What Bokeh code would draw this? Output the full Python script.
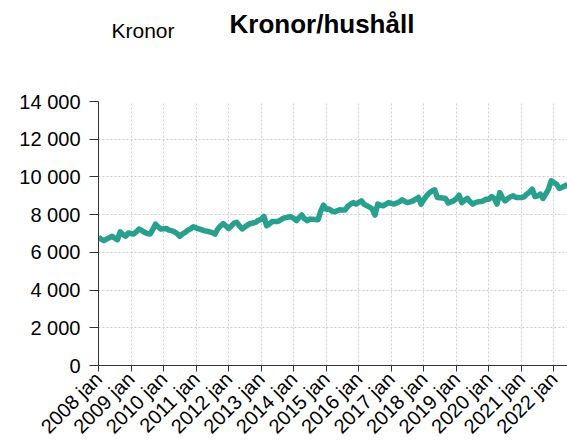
import math
from bokeh.plotting import figure
from bokeh.models import Range1d, FixedTicker, Title
from bokeh.embed import file_html
from bokeh.resources import INLINE

# ---- data ----
start_year = 2008
values = [
    # 2008
    6800, 6700, 6620, 6700, 6780, 6850, 6750, 6670, 7090, 6950, 6850, 7030,
    # 2009
    7000, 6970, 7100, 7240, 7150, 7060, 7000, 6970, 7200, 7500, 7350, 7240,
    # 2010
    7250, 7270, 7180, 7150, 7090, 7000, 6850, 6980, 7060, 7180, 7250, 7360,
    # 2011
    7300, 7240, 7200, 7150, 7120, 7090, 7050, 6970, 7240, 7400, 7530, 7400,
    # 2012
    7270, 7400, 7550, 7590, 7400, 7240, 7350, 7450, 7530, 7560, 7590, 7700,
    # 2013
    7750, 7910, 7410, 7500, 7630, 7630, 7630, 7700, 7800, 7840, 7870, 7890,
    # 2014
    7800, 7680, 7850, 7980, 7780, 7680, 7770, 7750, 7740, 7730, 8200, 8500,
    # 2015
    8290, 8300, 8200, 8150, 8200, 8260, 8240, 8250, 8450, 8560, 8640, 8560,
    # 2016
    8650, 8730, 8550, 8470, 8400, 8290, 7980, 8560, 8500, 8470, 8550, 8640,
    # 2017
    8600, 8560, 8620, 8680, 8790, 8700, 8640, 8680, 8730, 8820, 8910, 8560,
    # 2018
    8800, 9000, 9150, 9250, 9320, 8910, 8900, 8880, 8860, 8610, 8680, 8730,
    # 2019
    8850, 9030, 8640, 8750, 8860, 8700, 8560, 8640, 8680, 8700, 8730, 8820,
    # 2020
    8820, 8960, 8850, 8560, 9170, 8900, 8730, 8850, 8950, 9000, 8910, 8910,
    # 2021
    8910, 8950, 9090, 9200, 9350, 8960, 9000, 9090, 8860, 9100, 9350, 9790,
    # 2022
    9700, 9610, 9390, 9450, 9520, 9600,
]
x_tick_labels = ["2008 jan", "2009 jan", "2010 jan", "2011 jan", "2012 jan",
                 "2013 jan", "2014 jan", "2015 jan", "2016 jan", "2017 jan",
                 "2018 jan", "2019 jan", "2020 jan", "2021 jan", "2022 jan"]
y_ticks = [0, 2000, 4000, 6000, 8000, 10000, 12000, 14000]
y_tick_labels = ["0", "2 000", "4 000", "6 000", "8 000", "10 000", "12 000", "14 000"]
title_text = "Kronor/hushåll"
unit_text = "Kronor"

months = list(range(len(values)))
x_ticks = [12 * i for i in range(len(x_tick_labels))]

FONT = "Liberation Sans"

p = figure(width=567, height=448, output_backend="svg", toolbar_location=None,
           x_range=Range1d(0, len(values) - 1), y_range=Range1d(0, 14000),
           min_border_left=98, min_border_top=101, min_border_right=0, min_border_bottom=81)
p.outline_line_color = None
p.background_fill_color = "white"
p.border_fill_color = "white"

p.line(months, values, line_color="#28a08e", line_width=5.5, line_join="round")

# axes
p.xaxis.ticker = FixedTicker(ticks=x_ticks)
p.xaxis.major_label_overrides = {t: l for t, l in zip(x_ticks, x_tick_labels)}
p.xaxis.major_label_orientation = math.pi / 4
p.yaxis.ticker = FixedTicker(ticks=y_ticks)
p.yaxis.major_label_overrides = {t: l for t, l in zip(y_ticks, y_tick_labels)}

for ax in (p.xaxis, p.yaxis):
    ax.major_label_text_font = FONT
    ax.major_label_text_font_size = "20px"
    ax.major_label_text_color = "black"
    ax.axis_line_color = "#333333"
    ax.major_tick_line_color = "#333333"
    ax.minor_tick_line_color = None
    ax.major_tick_in = 0
p.yaxis.major_tick_out = 9
p.yaxis.major_label_standoff = 9
p.xaxis.major_tick_out = 6
p.xaxis.major_label_standoff = 4

p.xgrid.ticker = FixedTicker(ticks=x_ticks)
p.ygrid.ticker = FixedTicker(ticks=y_ticks)
for g in (p.xgrid, p.ygrid):
    g.grid_line_color = "#cccccc"
    g.grid_line_dash = "2 2"
    g.grid_line_width = 1

# titles: spacer (nearest frame), unit label, then main title (outermost)
p.add_layout(Title(text=" ", text_font_size="1px", standoff=57), "above")
p.add_layout(Title(text=unit_text, text_font=FONT, text_font_size="21px",
                   text_font_style="normal", text_color="black",
                   align="left", offset=13, standoff=0), "above")
p.title = Title(text=title_text, text_font=FONT, text_font_size="26px",
                text_font_style="bold", text_color="black",
                align="left", offset=131, standoff=-44)

open("out.html", "w").write(file_html(p, INLINE))
